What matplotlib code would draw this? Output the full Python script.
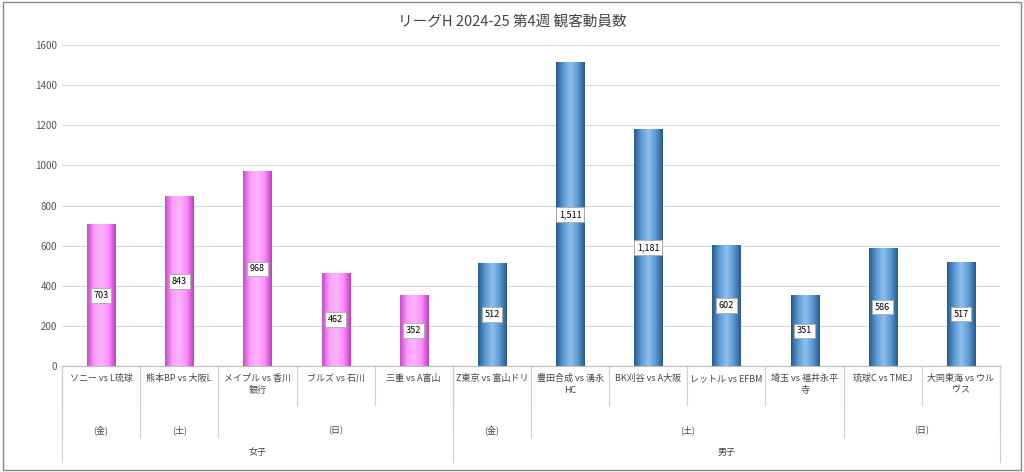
import matplotlib.pyplot as plt
import numpy as np
from matplotlib.colors import LinearSegmentedColormap

plt.rcParams["font.family"] = "Noto Sans CJK JP"

matches = ["ソニー vs L琉球", "熊本BP vs 大阪L", "メイプル vs 香川\n銀行", "ブルズ vs 石川",
           "三重 vs A富山", "Z東京 vs 富山ドリ", "豊田合成 vs 湧永\nHC", "BK刈谷 vs A大阪",
           "レットル vs EFBM", "埼玉 vs 福井永平\n寺", "琉球C vs TMEJ", "大同東海 vs ウル\nヴス"]
attendance = [703, 843, 968, 462, 352, 512, 1511, 1181, 602, 351, 586, 517]
days = [("(金)", 1), ("(土)", 1), ("(日)", 3), ("(金)", 1), ("(土)", 4), ("(日)", 2)]
genders = [("女子", 5), ("男子", 7)]

fig = plt.figure(figsize=(10.24, 4.72), dpi=100)
ax = fig.add_axes([62 / 1024, 1 - 366 / 472, 938 / 1024, 321 / 472])
n = len(matches)
ax.set_xlim(0, n)
ax.set_ylim(0, 1600)
ax.set_yticks(range(0, 1601, 200))
ax.tick_params(axis="y", labelsize=7, length=0, colors="#555555")
ax.set_xticks([])
ax.grid(axis="y", color="#d9d9d9", lw=0.8)
ax.set_axisbelow(True)
for s in ["top", "right", "left"]:
    ax.spines[s].set_visible(False)
ax.spines["bottom"].set_color("#bfbfbf")

pink = LinearSegmentedColormap.from_list("p", ["#c44fc4", "#ff9cff", "#f7b6f7", "#ff8cff", "#c040c0"])
blue = LinearSegmentedColormap.from_list("b", ["#2a5a8c", "#5b9bd5", "#8fc0ea", "#5b9bd5", "#2a5a8c"])
grad = np.linspace(0, 1, 64).reshape(1, -1)
w = 0.36
for i, v in enumerate(attendance):
    cm = pink if i < 5 else blue
    x0 = i + 0.5 - w / 2
    ax.imshow(grad, cmap=cm, aspect="auto", extent=[x0, x0 + w, 0, v], zorder=2)
    ax.text(i + 0.5, v / 2, f"{v:,}", ha="center", va="center", fontsize=6.5, zorder=3,
            bbox=dict(boxstyle="square,pad=0.3", fc="white", ec="#aaaaaa", lw=0.6))
ax.set_xlim(0, n)
ax.set_ylim(0, 1600)

sep = dict(color="#d0d0d0", lw=0.8, clip_on=False, transform=ax.get_xaxis_transform())
for i, m in enumerate(matches):
    ax.text(i + 0.5, -0.025, m, ha="center", va="top", fontsize=6.5, color="#444444",
            transform=ax.get_xaxis_transform(), linespacing=1.4)
for i in range(n + 1):
    ax.plot([i, i], [0, -0.12], **sep)
pos = 0
for d, c in days:
    ax.text(pos + c / 2, -0.2, d, ha="center", va="center", fontsize=6.5, color="#444444",
            transform=ax.get_xaxis_transform())
    ax.plot([pos, pos], [0, -0.22], **sep)
    pos += c
ax.plot([pos, pos], [0, -0.22], **sep)
pos = 0
for g, c in genders:
    ax.text(pos + c / 2, -0.27, g, ha="center", va="center", fontsize=6.5, color="#444444",
            transform=ax.get_xaxis_transform())
    ax.plot([pos, pos], [0, -0.3], **sep)
    pos += c
ax.plot([pos, pos], [0, -0.3], **sep)

fig.text(0.5, 0.955, "リーグH 2024-25 第4週 観客動員数", ha="center", va="center",
         fontsize=10.5, color="#444444")
fig.patches.append(plt.Rectangle((0.003, 0.005), 0.994, 0.99, transform=fig.transFigure,
                                 fill=False, ec="#888888", lw=1))
fig.savefig("out.png", dpi=100)
